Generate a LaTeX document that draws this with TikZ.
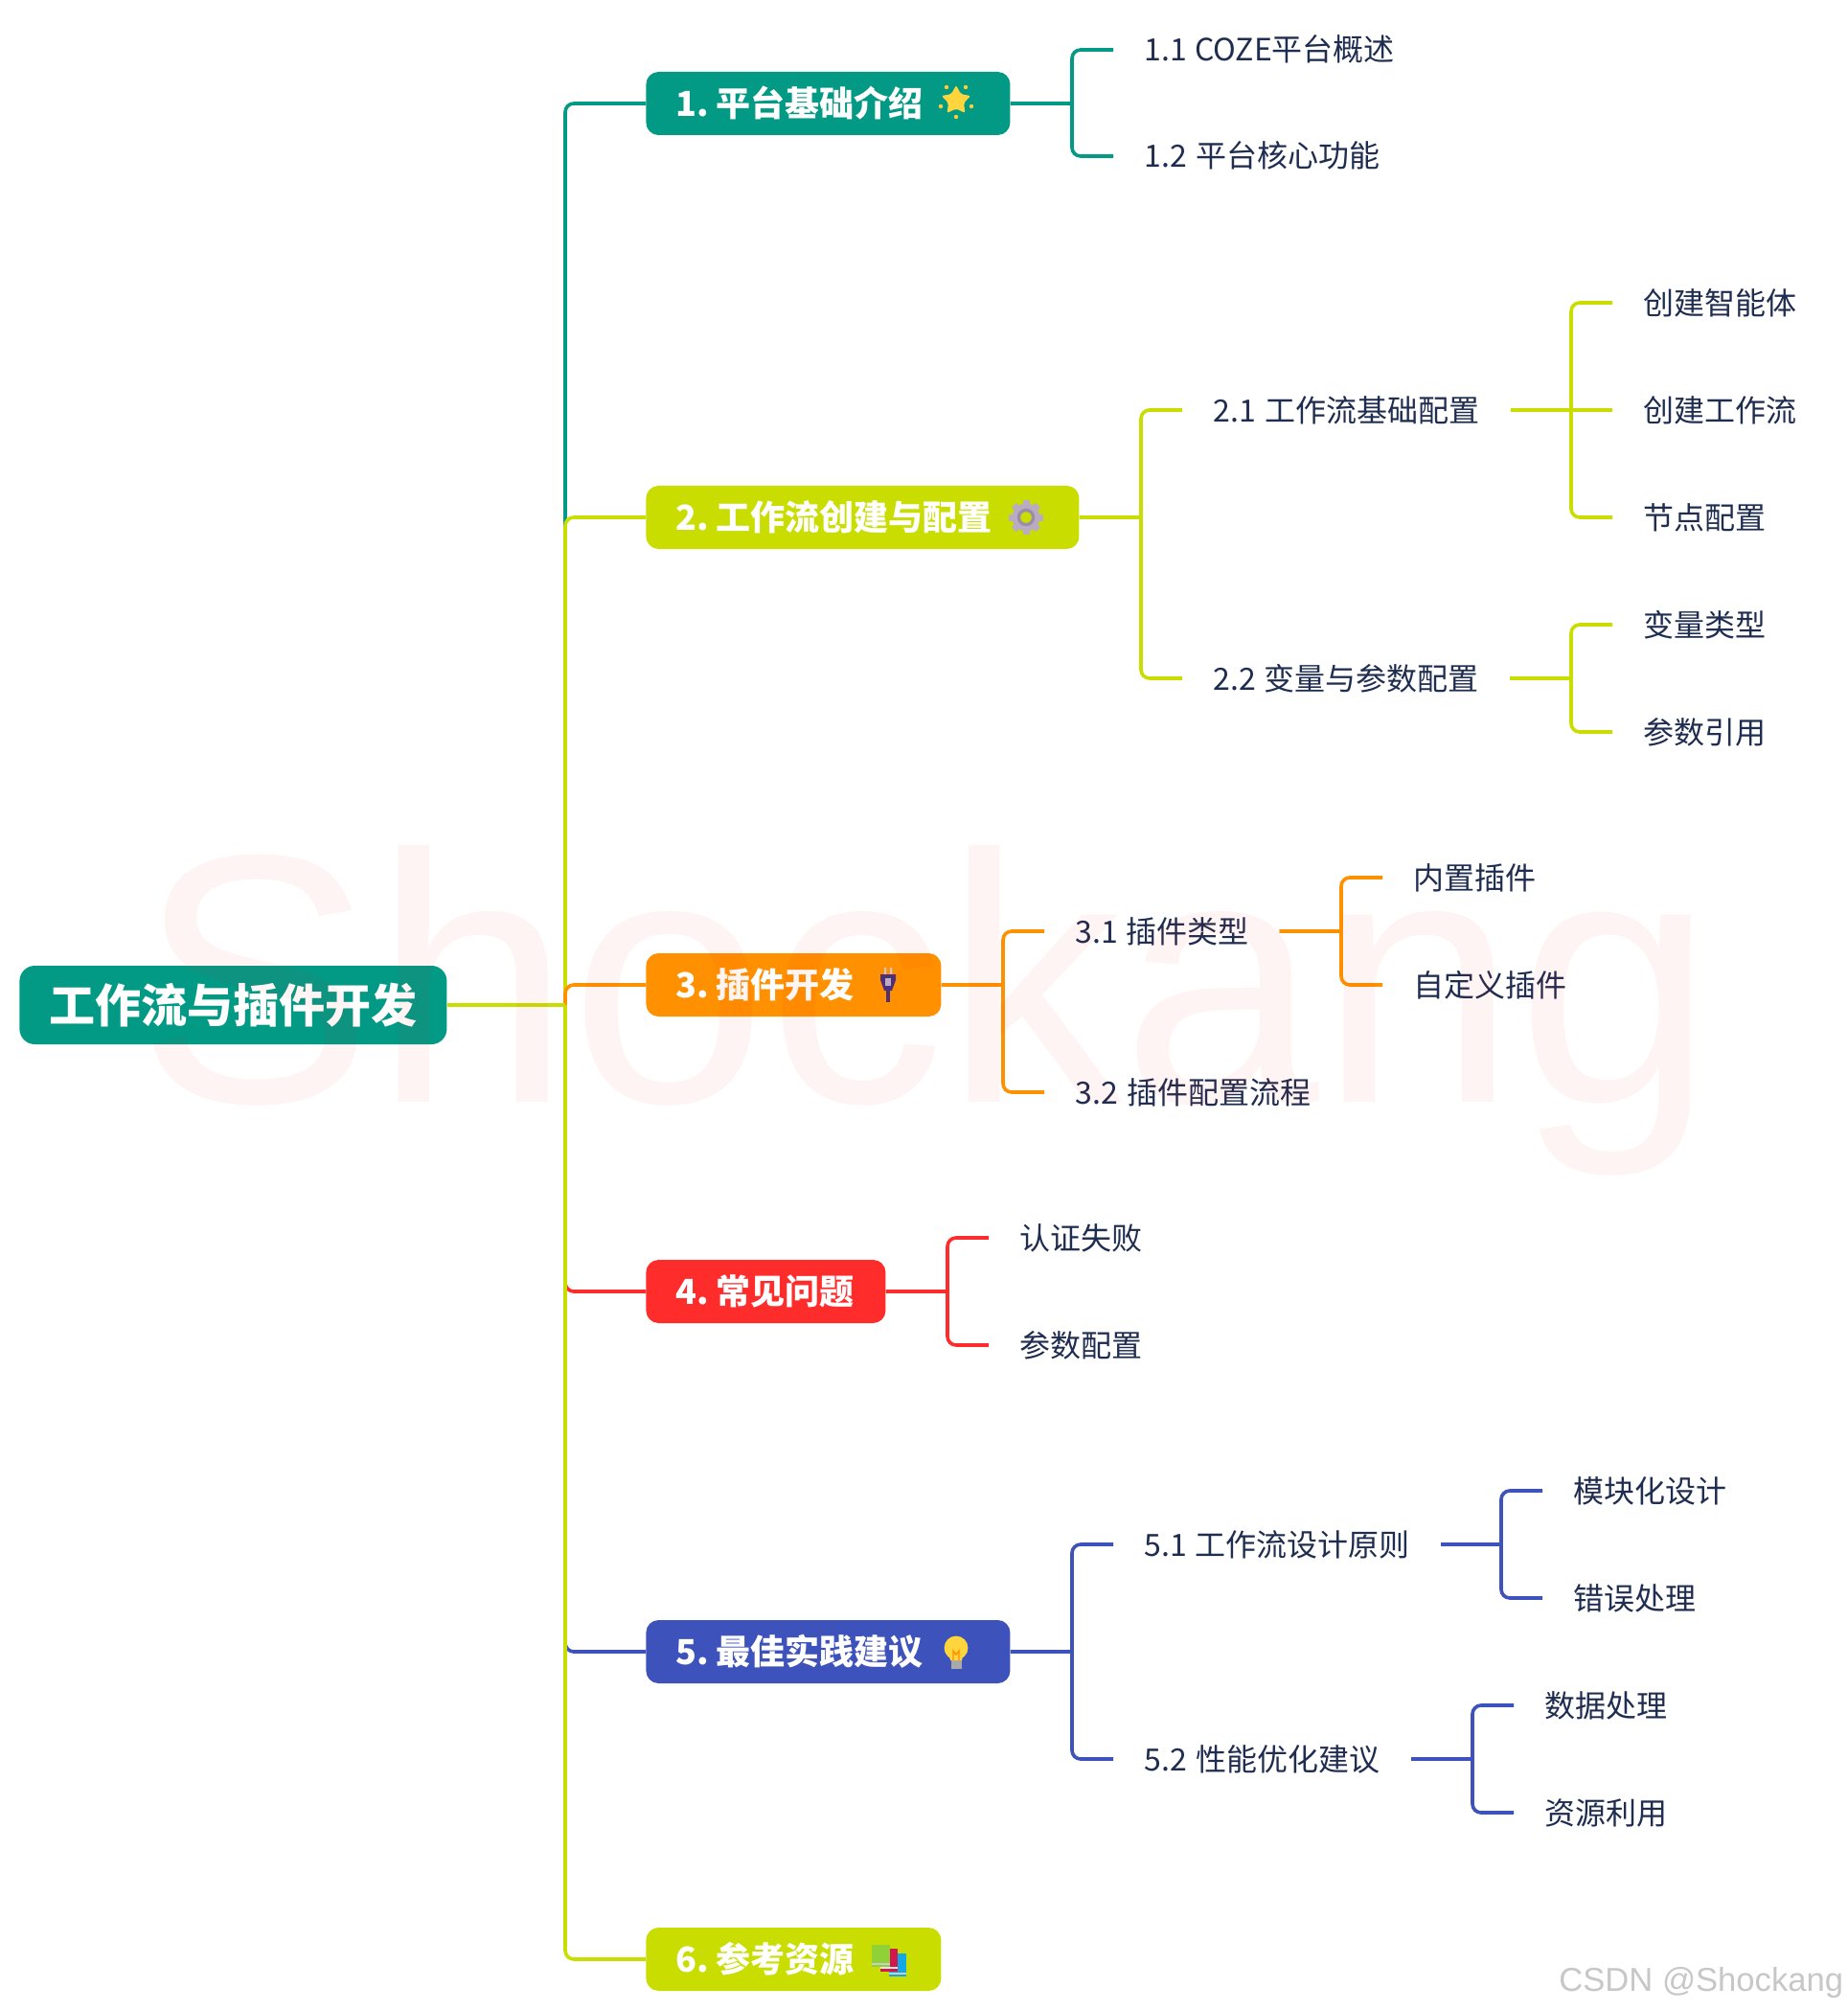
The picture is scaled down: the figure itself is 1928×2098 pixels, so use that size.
\documentclass[tikz,border=0pt]{standalone}
\usepackage{fontspec}
\setmainfont{Noto Sans CJK SC}
\newfontfamily\markfont{Liberation Sans}
\usetikzlibrary{shapes.geometric}
\definecolor{Teal}{HTML}{039A85}
\definecolor{Lime}{HTML}{C9DE00}
\definecolor{Amber}{HTML}{FF9100}
\definecolor{Crimson}{HTML}{FF2C2C}
\definecolor{Indigo}{HTML}{3D52BA}
\definecolor{TextInk}{HTML}{1F2D50}
\definecolor{StarGold}{HTML}{FFD53D}
\definecolor{GearGrey}{HTML}{B8ABC2}
\definecolor{GearRing}{HTML}{9A8DAA}
\definecolor{PlugPurple}{HTML}{4F3078}
\definecolor{BulbGrey}{HTML}{A9A9A9}
\definecolor{BookGreen}{HTML}{8FD136}
\definecolor{BookRed}{HTML}{D0174E}
\definecolor{BookBlue}{HTML}{12A8E8}
\begin{document}
\begin{tikzpicture}[x=0.5pt,y=-0.5pt,every node/.style={text=TextInk},rootbox/.style={rectangle,fill=Teal,rounded corners=8pt,anchor=west,minimum height=41pt,text width=223pt,inner xsep=0pt,align=center,text=white,font=\fontsize{24}{28}\selectfont\bfseries,text height=19pt,text depth=0.5pt},topic/.style={rectangle,rounded corners=6.5pt,anchor=west,minimum height=33pt,inner xsep=15.5pt,inner ysep=0pt,align=left,text=white,font=\fontsize{18}{22}\selectfont\bfseries,text height=14pt,text depth=0.4pt},leaf/.style={anchor=west,inner xsep=16pt,inner ysep=0pt,font=\fontsize{16}{20}\selectfont,text height=13pt,text depth=1pt},link/.style={line width=1.8pt}]
\useasboundingbox[fill=white] (0,0) rectangle (1928,2098);
\node[rootbox] (root) at (20,1049){工作流与插件开发};
\coordinate (trunk) at (590,1049);
\foreach \nm/\y/\w/\col/\txt in {t1/108/159/Teal/{1. \kern-5.3pt平台基础介绍},t2/540/195/Lime/{2. \kern-5.3pt工作流创建与配置},t3/1028/123/Amber/{3. \kern-5.3pt插件开发},t4/1348/94/Crimson/{4. \kern-5.3pt常见问题},t5/1724/159/Indigo/{5. \kern-5.3pt最佳实践建议},t6/2045/123/Lime/{6. \kern-5.3pt参考资源}}{
  \node[topic,fill=\col,text width=\w pt] (\nm) at (674,\y){\mbox{\txt}};
}
\foreach \nm/\x/\y/\txt in {c11/1162/52/{1.1 \kern0.7ptCOZE平台概述},c12/1162/163/{1.2 \kern1.5pt平台核心功能},c21/1234/428/{2.1 \kern1.3pt工作流基础配置},c22/1234/708/{2.2 \kern0.8pt变量与参数配置},c211/1683/316/创建智能体,c212/1683/428/创建工作流,c213/1683/540/节点配置,c221/1683/652/变量类型,c222/1683/764/参数引用,c31/1090/972/{3.1 \kern0.6pt插件类型},c32/1090/1140/{3.2 \kern1.3pt插件配置流程},c311/1443/916/内置插件,c312/1443/1028/自定义插件,c41/1032/1292/认证失败,c42/1032/1404/参数配置,c51/1162/1612/{5.1 \kern0.9pt工作流设计原则},c52/1162/1836/{5.2 \kern1.3pt性能优化建议},c511/1610/1556/模块化设计,c512/1610/1668/错误处理,c521/1580/1780/数据处理,c522/1580/1892/资源利用}{
  \node[leaf] (\nm) at (\x,\y){\txt};
}
\foreach \nm/\col in {t1/Teal,t2/Lime,t3/Amber,t4/Crimson,t5/Indigo,t6/Lime}{
  \draw[link,\col,rounded corners=4.5pt] (trunk) |- (\nm.west);
}
\draw[link,Lime,line width=2pt] (root.east) -- (trunk);
\foreach \p/\c/\col in {t1/c11/Teal,t1/c12/Teal,t2/c21/Lime,t2/c22/Lime,c21/c211/Lime,c21/c213/Lime,c22/c221/Lime,c22/c222/Lime,t3/c31/Amber,t3/c32/Amber,c31/c311/Amber,c31/c312/Amber,t4/c41/Crimson,t4/c42/Crimson,t5/c51/Indigo,t5/c52/Indigo,c51/c511/Indigo,c51/c512/Indigo,c52/c521/Indigo,c52/c522/Indigo}{
  \draw[link,\col] (\p.east) -- ([xshift=-21.5pt]\c.west |- \p.east) [rounded corners=4.5pt] |- (\c.west);
}
\draw[link,Lime] (c21.east) -- (c212.west);
% icons
\begin{scope}[shift={(998,105)}]
  \node[star,star points=5,star point ratio=1.9,minimum size=16pt,inner sep=0pt,fill=StarGold,rounded corners=1pt] (staricon) at (0,0){};
  \foreach \x/\y in {-10/-14,10/-14,-16/6,16/6,0/17}{\fill[StarGold!90!orange] (\x,\y) circle (1.1pt);}
\end{scope}
\begin{scope}[shift={(1071,540)}]
  \foreach \a in {0,45,...,315}{\fill[GearGrey,rotate=\a] (-3.5,-18) rectangle (3.5,0);}
  \fill[GearGrey] (0,0) circle (7.2pt);
  \fill[GearRing] (0,0) circle (4.6pt);
  \fill[Lime] (0,0) circle (2.9pt);
\end{scope}
\begin{scope}[shift={(927,1010)}]
  \fill[GearGrey!70!white] (-4,0) rectangle (-2,8) (2,0) rectangle (4,8);
  \fill[PlugPurple] (-8,7) -- (8,7) -- (8,13) -- (4,24) -- (-4,24) -- (-8,13) -- cycle;
  \fill[GearGrey] (-3,11) rectangle (3,19);
  \fill[PlugPurple] (-1.8,24) rectangle (1.8,36);
\end{scope}
\begin{scope}[shift={(998,1720)}]
  \fill[BulbGrey] (-5.5,11) rectangle (5.5,22);
  \fill[StarGold] (0,0) circle (6.2pt);
  \fill[StarGold] (-12,2) .. controls (-11,7) and (-6,8) .. (-6,13) -- (6,13) .. controls (6,8) and (11,7) .. (12,2) -- cycle;
  \draw[Amber,line width=0.7pt] (-3,13) -- (-3,3) -- (0,7) -- (3,3) -- (3,13);
\end{scope}
\fill[BookBlue] (928,2039) rectangle (946,2063);
\fill[gray!40] (928,2059) rectangle (946,2061);
\fill[BookRed] (919,2034) rectangle (937,2058);
\fill[gray!20] (919,2053) rectangle (937,2055);
\fill[BookGreen] (910,2030) rectangle (929,2053);
\fill[gray!40] (910,2049) rectangle (929,2051);
% watermarks
\node[anchor=base west,inner sep=0pt,text=red,text opacity=0.045,font=\markfont\fontsize{185}{185}\selectfont] (shockmark) at (143,1150){Shockang};
\node[anchor=base west,inner sep=0pt,text=black!22,font=\markfont\fontsize{17.3}{20}\selectfont] (csdnmark) at (1627,2078){CSDN @Shockang};
\end{tikzpicture}
\end{document}
